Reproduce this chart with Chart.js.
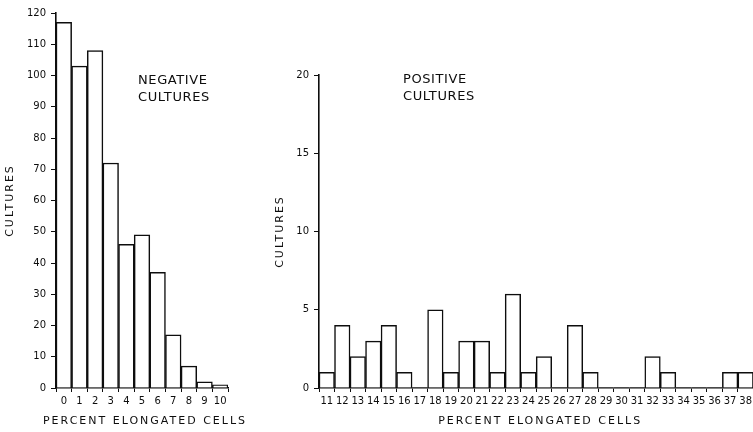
<!DOCTYPE html>
<html>
<head>
<meta charset="utf-8">
<script src="https://cdn.jsdelivr.net/npm/chart.js@4.4.1/dist/chart.umd.min.js"></script>
<style>
  html, body { margin: 0; padding: 0; background: #fff; width: 753px; height: 432px; overflow: hidden; }
  canvas { position: absolute; top: 0; }
  #negChart { left: 0; }
  #posChart { left: 260px; }
</style>
</head>
<body>
<canvas id="negChart" width="250" height="432"></canvas>
<canvas id="posChart" width="495" height="432"></canvas>
<script>
// Negative cultures: percent elongated cells 0..10
const negCategories = ['0', '1', '2', '3', '4', '5', '6', '7', '8', '9', '10'];
const negCounts = [117, 103, 108, 72, 46, 49, 37, 17, 7, 2, 1];
const negYMax = 120;
const negYStep = 10;

// Positive cultures: percent elongated cells 11..38
const posCategories = ['11', '12', '13', '14', '15', '16', '17', '18', '19', '20', '21', '22', '23', '24',
  '25', '26', '27', '28', '29', '30', '31', '32', '33', '34', '35', '36', '37', '38'];
const posCounts = [1, 4, 2, 3, 4, 1, 0, 5, 1, 3, 3, 1, 6, 1, 2, 0, 4, 1, 0, 0, 0, 2, 1, 0, 0, 0, 1, 1];
const posYMax = 20;
const posYStep = 5;

const ink = '#0d0d0d';
const face = '"DejaVu Sans", sans-serif';

// axis titles and the in-plot note, drawn with wider letter spacing like the stencil lettering
const lettering = {
  id: 'lettering',
  afterDraw(chart, args, opts) {
    const { ctx, chartArea } = chart;
    ctx.save();
    ctx.fillStyle = ink;
    ctx.font = '11px ' + face;
    ctx.letterSpacing = '2px';
    ctx.textAlign = 'center';
    ctx.textBaseline = 'middle';
    ctx.fillText(opts.xTitle, (chartArea.left + chartArea.right) / 2 + opts.xTitleShift, opts.xTitleY);
    ctx.translate(opts.yTitleX, (chartArea.top + chartArea.bottom) / 2);
    ctx.rotate(-Math.PI / 2);
    ctx.fillText(opts.yTitle, 0, 0);
    ctx.restore();

    ctx.save();
    ctx.fillStyle = ink;
    ctx.font = '13px ' + face;
    ctx.letterSpacing = '0.6px';
    ctx.textAlign = 'left';
    ctx.textBaseline = 'middle';
    opts.note.forEach((line, i) => ctx.fillText(line, opts.noteX, opts.noteY + i * 17));
    ctx.restore();
  }
};

function histogram(id, labels, counts, yMax, yStep, yWidth, padding, letters) {
  return new Chart(document.getElementById(id).getContext('2d'), {
    type: 'bar',
    data: {
      labels: labels,
      datasets: [{
        data: counts,
        backgroundColor: '#ffffff',
        borderColor: ink,
        // empty classes have no box, only the baseline
        borderWidth: (c) => (c.raw === 0 ? 0 : 1.5),
        barPercentage: 1,
        categoryPercentage: 1
      }]
    },
    options: {
      responsive: false,
      animation: false,
      devicePixelRatio: 1,
      layout: { padding: padding },
      plugins: {
        legend: { display: false },
        tooltip: { enabled: false },
        lettering: letters
      },
      scales: {
        x: {
          grid: { drawOnChartArea: false, drawTicks: true, tickLength: 4, color: ink, lineWidth: 1 },
          border: { display: true, color: ink, width: 1.6 },
          ticks: { color: ink, font: { family: face, size: 10 }, padding: 3, autoSkip: false, maxRotation: 0 },
          afterFit: (scale) => { scale.height = 44; }
        },
        y: {
          min: 0,
          max: yMax,
          grid: { drawOnChartArea: false, drawTicks: true, tickLength: 5, color: ink, lineWidth: 1 },
          border: { display: true, color: ink, width: 1.6 },
          ticks: { stepSize: yStep, color: ink, font: { family: face, size: 10 }, padding: 5 },
          afterFit: (scale) => { scale.width = yWidth; }
        }
      }
    },
    plugins: [lettering]
  });
}

const negChart = histogram('negChart', negCategories, negCounts, negYMax, negYStep, 56,
  { top: 13, right: 22, left: 0, bottom: 0 },
  { xTitle: 'PERCENT ELONGATED CELLS', xTitleY: 421, xTitleShift: 3, yTitle: 'CULTURES', yTitleX: 10,
    note: ['NEGATIVE', 'CULTURES'], noteX: 138, noteY: 81 });

const posChart = histogram('posChart', posCategories, posCounts, posYMax, posYStep, 50,
  { top: 75, right: 0, left: 9, bottom: 0 },
  { xTitle: 'PERCENT ELONGATED CELLS', xTitleY: 421, xTitleShift: 4, yTitle: 'CULTURES', yTitleX: 20,
    note: ['POSITIVE', 'CULTURES'], noteX: 143, noteY: 80 });
</script>
</body>
</html>
